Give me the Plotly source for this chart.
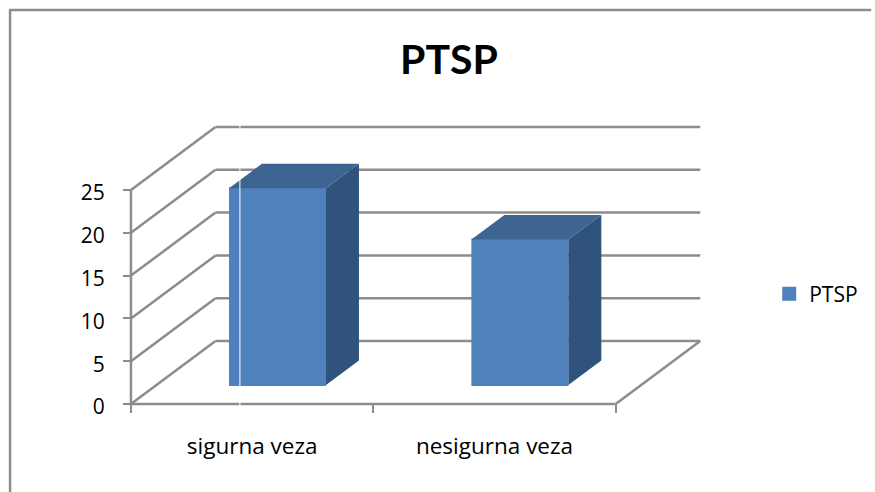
import plotly.graph_objects as go

# --- data ---
categories = ["sigurna veza", "nesigurna veza"]
series_name = "PTSP"
values = [23, 17]
y_ticks = [0, 5, 10, 15, 20, 25]

# --- oblique projection and styling ---
W, H = 875, 492
L, R, T, B = 121, 714, 120, 414       # plot area in page pixels
PAD = 10                              # pixels kept around the data origin
XU, YU = 243.6, 8.56                  # pixels per category / per value unit
DX, DY = 85 / XU, 63 / YU             # full floor depth in axis units
BAR_W = 0.4
BAR_NEAR, BAR_DEPTH = 0.30, 0.39      # bar position along the floor depth
GRID = "#8c8c8c"
LW = 2.5
FRONT, TOP, SIDE = "#4f81bd", "#3e6592", "#30537c"
FONT = "Open Sans"
n = len(categories)
x_max_floor = float(n)

fig = go.Figure()

# Front faces of the bars, carrying the legend entry
bx0 = BAR_NEAR * DX
by0 = BAR_NEAR * DY
fig.add_trace(go.Bar(
    x=[i + 0.5 + bx0 for i in range(n)], y=values, base=by0,
    width=BAR_W - 0.008, name=series_name, showlegend=True,
    marker=dict(color=FRONT, line=dict(color=FRONT, width=2)),
))

# Top and side faces
ddx, ddy = BAR_DEPTH * DX, BAR_DEPTH * DY
for i, v in enumerate(values):
    xl = i + 0.5 + bx0 - BAR_W / 2
    xr = xl + BAR_W
    ytop = by0 + v
    fig.add_trace(go.Scatter(
        x=[xl, xl + ddx, xr + ddx, xr, xl], y=[ytop, ytop + ddy, ytop + ddy, ytop, ytop],
        mode="lines", fill="toself", fillcolor=TOP, line=dict(width=0),
        showlegend=False, hoverinfo="skip"))
    fig.add_trace(go.Scatter(
        x=[xr, xr + ddx, xr + ddx, xr, xr], y=[by0, by0 + ddy, ytop + ddy, ytop, by0],
        mode="lines", fill="toself", fillcolor=SIDE, line=dict(width=0),
        showlegend=False, hoverinfo="skip"))

# Front axis lines
top_tick = y_ticks[-1]
fig.add_trace(go.Scatter(x=[0, 0, x_max_floor], y=[top_tick, 0, 0], mode="lines",
                         line=dict(color=GRID, width=LW),
                         showlegend=False, hoverinfo="skip"))

# Walls: behind the bars, therefore layout shapes below the traces
shapes = []
for t in y_ticks:
    shapes.append(dict(type="line", layer="below", xref="x", yref="y", x0=0, y0=t, x1=DX, y1=t + DY,
                       line=dict(color=GRID, width=LW)))
    shapes.append(dict(type="line", layer="below", xref="x", yref="y", x0=DX, y0=t + DY,
                       x1=x_max_floor + DX, y1=t + DY, line=dict(color=GRID, width=LW)))
shapes.append(dict(type="line", layer="below", xref="x", yref="y", x0=x_max_floor, y0=0,
                   x1=x_max_floor + DX, y1=DY, line=dict(color=GRID, width=LW)))

# Outer chart frame (open to the right and bottom of the page)
px = lambda p: (p - L) / (R - L)
py = lambda p: (B - p) / (B - T)
shapes.append(dict(type="line", xref="paper", yref="paper", x0=px(9.5), y0=py(10), x1=px(9.5), y1=py(492),
                   line=dict(color=GRID, width=LW)))
shapes.append(dict(type="line", xref="paper", yref="paper", x0=px(8.5), y0=py(10), x1=px(875), y1=py(10),
                   line=dict(color=GRID, width=LW)))
# Thin white scan line crossing the first bar
shapes.append(dict(type="line", xref="paper", yref="paper", x0=px(240.5), y0=py(120), x1=px(240.5), y1=py(408),
                   line=dict(color="white", width=1)))

fig.update_layout(
    width=W, height=H, autosize=False,
    margin=dict(l=L, r=W - R, t=T, b=H - B),
    paper_bgcolor="white", plot_bgcolor="white",
    font=dict(family=FONT, color="black", size=20),
    title=dict(text="<b>PTSP</b>", font=dict(family="Lato", size=41, color="black"),
               x=449 / W, xanchor="center", xref="container",
               y=1 - 60 / H, yanchor="middle", yref="container"),
    shapes=shapes,
    showlegend=True,
    legend=dict(x=px(772.5), xanchor="left", y=py(294), yanchor="middle",
                bgcolor="rgba(0,0,0,0)", font=dict(family=FONT, size=21, color="black")),
    xaxis=dict(range=[-PAD / XU, (R - L - PAD) / XU], anchor="free", position=PAD / (B - T),
               showgrid=False, zeroline=False, showline=False,
               tickmode="array", tickvals=[i + 0.5 for i in range(n)], ticktext=categories,
               ticks="outside", ticklen=22, tickcolor="rgba(0,0,0,0)", tickfont=dict(size=22.5),
               minor=dict(tickmode="array", tickvals=list(range(n + 1)), ticks="outside",
                          ticklen=8, tickwidth=2, tickcolor=GRID, showgrid=False)),
    yaxis=dict(range=[-PAD / YU, (B - T - PAD) / YU], anchor="free", position=PAD / (R - L),
               showgrid=False, zeroline=False, showline=False,
               tickmode="array", tickvals=y_ticks, ticks="outside", ticklen=8, tickwidth=2,
               tickcolor=GRID, tickfont=dict(size=21), ticklabelstandoff=14, ticklabelshift=3),
)

fig.write_html("out.html", config={"displayModeBar": False},
               post_script="document.body.style.margin='0';")
